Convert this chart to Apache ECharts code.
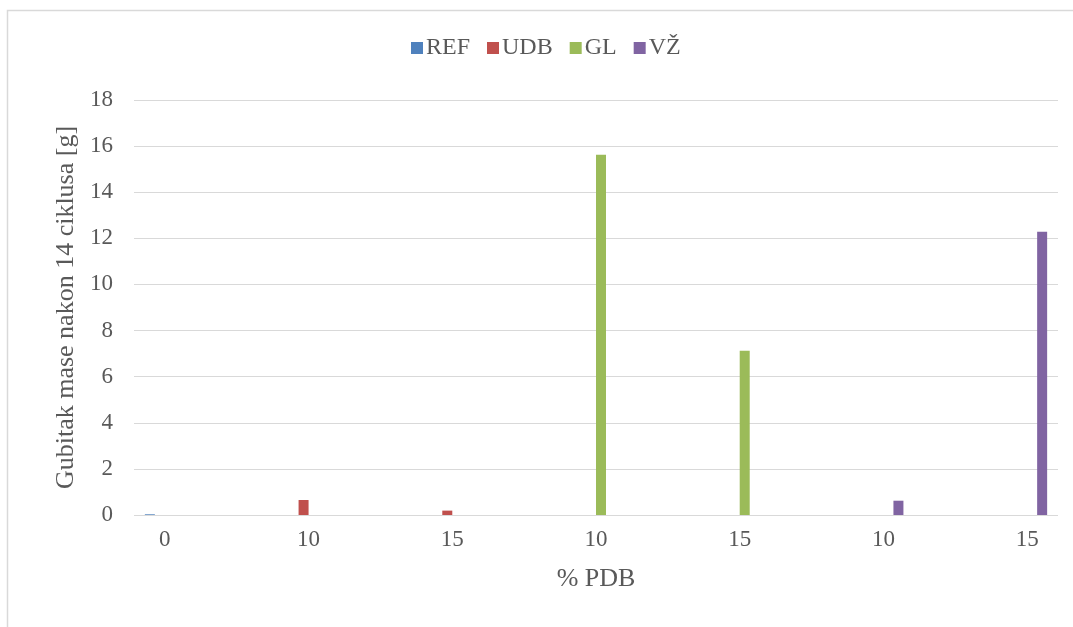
<!DOCTYPE html>
<html>
<head>
<meta charset="utf-8">
<script src="https://cdn.jsdelivr.net/npm/echarts@6/dist/echarts.min.js"></script>
<style>html,body{margin:0;padding:0;background:#fff;overflow:hidden;}#c{width:1130px;height:627px;}</style>
</head>
<body>
<div id="c"></div>
<script>
const categories = ['0', '10', '15', '10', '15', '10', '15'];
const seriesNames = ['REF', 'UDB', 'GL', 'VŽ'];
const refValues = [0.03, null, null, null, null, null, null];
const udbValues = [null, 0.65, 0.19, null, null, null, null];
const glValues  = [null, null, null, 15.63, 7.12, null, null];
const vzValues  = [null, null, null, null, null, 0.62, 12.29];
const colors = ['#4f81bd', '#c0504d', '#9bbb59', '#8064a2'];
const yTicks = [0, 2, 4, 6, 8, 10, 12, 14, 16, 18];

const FONT = "'Liberation Serif', 'Times New Roman', serif";
const TXT = '#595959';
const chart = echarts.init(document.getElementById('c'));
const allValues = [refValues, udbValues, glValues, vzValues];
chart.setOption({
  animation: false,
  color: colors,
  textStyle: { fontFamily: FONT },
  graphic: [{
    type: 'rect', silent: true,
    shape: { x: 7.5, y: 10.5, width: 1200, height: 1000 },
    style: { fill: 'none', stroke: '#d9d9d9', lineWidth: 1.5 }
  }],
  legend: {
    data: seriesNames,
    top: 31, left: 406,
    itemWidth: 12, itemHeight: 12, itemGap: 17,
    icon: 'rect',
    textStyle: { fontFamily: FONT, fontSize: 24, color: TXT, padding: [0, 0, 0, -2] }
  },
  grid: [
    { left: 134, right: 72, top: 100, bottom: 112 },
    { left: 93, width: 1006, top: 100, bottom: 112 }
  ],
  xAxis: [
    { gridIndex: 0, type: 'value', min: 0, max: 1, show: false },
    {
      gridIndex: 1, type: 'category', data: categories,
      axisLine: { show: false }, axisTick: { show: false },
      axisLabel: { fontFamily: FONT, fontSize: 23, color: TXT, margin: 13 },
      name: '% PDB', nameLocation: 'middle', nameGap: 51,
      nameTextStyle: { fontFamily: FONT, fontSize: 26, color: TXT }
    }
  ],
  yAxis: [
    {
      gridIndex: 0, type: 'value', min: yTicks[0], max: yTicks[yTicks.length - 1], interval: yTicks[1] - yTicks[0],
      axisLine: { show: false }, axisTick: { show: false },
      axisLabel: { fontFamily: FONT, fontSize: 23, color: TXT, margin: 21 },
      splitLine: { lineStyle: { color: '#d9d9d9', width: 1 } },
      name: 'Gubitak mase nakon 14 ciklusa [g]', nameLocation: 'middle', nameGap: 53,
      nameTextStyle: { fontFamily: FONT, fontSize: 26, color: TXT }
    },
    {
      gridIndex: 1, type: 'value', min: yTicks[0], max: yTicks[yTicks.length - 1], show: false
    }
  ],
  series: seriesNames.map((n, i) => ({
    name: n, type: 'bar', xAxisIndex: 1, yAxisIndex: 1,
    data: allValues[i].map(v => v === null ? '-' : v),
    barWidth: 10, barGap: '0%',
    itemStyle: { color: colors[i] }
  }))
});
</script>
</body>
</html>
